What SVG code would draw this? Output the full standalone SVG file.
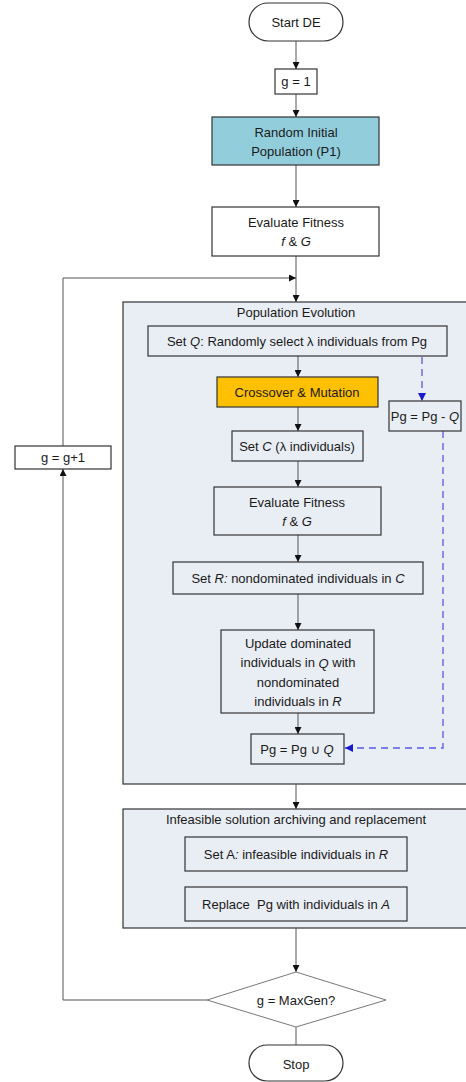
<svg xmlns="http://www.w3.org/2000/svg" width="466" height="1082" viewBox="0 0 466 1082">
<defs>
<style>
text{font-family:"Liberation Sans","DejaVu Sans",sans-serif;font-size:13px;fill:#1a1a1a;text-anchor:middle;dominant-baseline:central}
.i{font-style:italic}
.box{fill:#fff;stroke:#333;stroke-width:1.2}
.cont{fill:#E9EDF4;stroke:#333;stroke-width:1.2}
.ln{fill:none;stroke:#555;stroke-width:1}
.dash{fill:none;stroke:#5a5ae6;stroke-width:1.3;stroke-dasharray:7,5}
</style>
<marker id="ah" viewBox="0 0 10 10" refX="10" refY="5" markerWidth="7" markerHeight="7" markerUnits="userSpaceOnUse" orient="auto"><path d="M0,0L10,5L0,10z" fill="#111"/></marker>
<marker id="ahb" viewBox="0 0 10 10" refX="10" refY="5" markerWidth="8" markerHeight="8" markerUnits="userSpaceOnUse" orient="auto"><path d="M0,0L10,5L0,10z" fill="#1a1acc"/></marker>
</defs>
<g id="containers">
<g id="popEvo"><rect class="cont" x="123" y="302" width="350" height="482"/><text x="296" y="312">Population Evolution</text></g>
<g id="infeasible"><rect class="cont" x="123" y="809" width="350" height="119"/><text x="296" y="819">Infeasible solution archiving and replacement</text></g>
</g>
<g id="connectors">
<line class="ln" x1="296" y1="41" x2="296" y2="69" marker-end="url(#ah)"/>
<line class="ln" x1="296" y1="94" x2="296" y2="117" marker-end="url(#ah)"/>
<line class="ln" x1="296" y1="165" x2="296" y2="207" marker-end="url(#ah)"/>
<line class="ln" x1="296" y1="256" x2="296" y2="302" marker-end="url(#ah)"/>
<polyline class="ln" points="63,446 63,278 296,278" marker-end="url(#ah)"/>
<line class="ln" x1="298" y1="356" x2="298" y2="377" marker-end="url(#ah)"/>
<line class="ln" x1="298" y1="407" x2="298" y2="431" marker-end="url(#ah)"/>
<line class="ln" x1="298" y1="461" x2="298" y2="487" marker-end="url(#ah)"/>
<line class="ln" x1="298" y1="535" x2="298" y2="562" marker-end="url(#ah)"/>
<line class="ln" x1="298" y1="594" x2="298" y2="630" marker-end="url(#ah)"/>
<line class="ln" x1="298" y1="713" x2="298" y2="734" marker-end="url(#ah)"/>
<line class="dash" x1="422" y1="357" x2="422" y2="401" marker-end="url(#ahb)"/>
<polyline class="dash" points="443,431 443,748 345,748" marker-end="url(#ahb)"/>
<line class="ln" x1="296" y1="784" x2="296" y2="809" marker-end="url(#ah)"/>
<line class="ln" x1="296" y1="928" x2="296" y2="972" marker-end="url(#ah)"/>
<line class="ln" x1="296" y1="1027" x2="296" y2="1045"/>
<polyline class="ln" points="207,1000 63,1000 63,469" marker-end="url(#ah)"/>
</g>
<g id="start"><rect class="box" x="249" y="3" width="94" height="38" rx="19"/><text x="296" y="22">Start DE</text></g>
<g id="g1"><rect class="box" x="275" y="69" width="42" height="25"/><text x="296" y="81.5">g = 1</text></g>
<g id="randInit"><rect class="box" x="212" y="117" width="167" height="48" style="fill:#92CDDC"/><text x="296" y="132">Random Initial</text><text x="296" y="151">Population (P1)</text></g>
<g id="eval1"><rect class="box" x="212" y="207" width="167" height="49"/><text x="296" y="222">Evaluate Fitness</text><text x="296" y="241"><tspan class="i">f</tspan> &amp; <tspan class="i">G</tspan></text></g>
<g id="gInc"><rect class="box" x="15" y="446" width="96" height="23"/><text x="63" y="457.5">g = g+1</text></g>
<g id="setQ"><rect class="box" x="148" y="326" width="299" height="30" style="fill:#E9EDF4"/><text x="297" y="341">Set <tspan class="i">Q</tspan>: Randomly select λ individuals from Pg</text></g>
<g id="cross"><rect class="box" x="217" y="377" width="161" height="30" style="fill:#FFC000"/><text x="297" y="392">Crossover &amp; Mutation</text></g>
<g id="pgMinus"><rect class="box" x="389" y="401" width="72" height="30" style="fill:#E9EDF4"/><text x="425" y="416">Pg = Pg - <tspan class="i">Q</tspan></text></g>
<g id="setC"><rect class="box" x="232" y="431" width="131" height="30" style="fill:#E9EDF4"/><text x="297" y="446">Set <tspan class="i">C</tspan> (λ individuals)</text></g>
<g id="eval2"><rect class="box" x="214" y="487" width="167" height="48" style="fill:#E9EDF4"/><text x="297" y="502">Evaluate Fitness</text><text x="297" y="521"><tspan class="i">f</tspan> &amp; <tspan class="i">G</tspan></text></g>
<g id="setR"><rect class="box" x="173" y="562" width="250" height="32" style="fill:#E9EDF4"/><text x="298" y="578">Set <tspan class="i">R:</tspan> nondominated individuals in <tspan class="i">C</tspan></text></g>
<g id="update"><rect class="box" x="221" y="630" width="153" height="83" style="fill:#E9EDF4"/><text x="298" y="643">Update dominated</text><text x="298" y="662.5">individuals in <tspan class="i">Q</tspan> with</text><text x="298" y="682">nondominated</text><text x="298" y="701">individuals in <tspan class="i">R</tspan></text></g>
<g id="pgUnion"><rect class="box" x="251" y="734" width="93" height="30" style="fill:#E9EDF4"/><text x="297" y="749">Pg = Pg ∪ <tspan class="i">Q</tspan></text></g>
<g id="setA"><rect class="box" x="185" y="837" width="222" height="34" style="fill:#E9EDF4"/><text x="296" y="854">Set A<tspan class="i">:</tspan> infeasible individuals in <tspan class="i">R</tspan></text></g>
<g id="replace"><rect class="box" x="185" y="887" width="222" height="34" style="fill:#E9EDF4"/><text x="296" y="904">Replace&#160; Pg with individuals in <tspan class="i">A</tspan></text></g>
<g id="decision"><polygon points="296,972 386,1000 296,1027 207,1000" style="fill:#fff;stroke:#777;stroke-width:1"/><text x="296" y="1000">g = MaxGen?</text></g>
<g id="stop"><rect class="box" x="249" y="1045" width="94" height="36" rx="18"/><text x="296" y="1064">Stop</text></g>
</svg>
